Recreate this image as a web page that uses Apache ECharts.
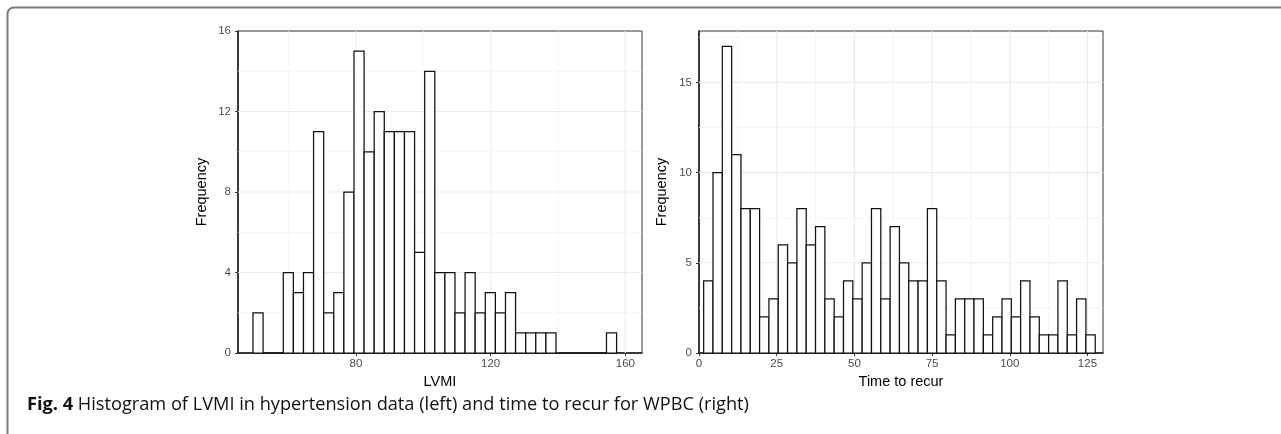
<!DOCTYPE html>
<html>
<head>
<meta charset="utf-8">
<script src="https://cdn.jsdelivr.net/npm/echarts@6/dist/echarts.min.js"></script>
<style>
  html, body { margin: 0; padding: 0; background: #fff; overflow: hidden; }
  #chart { width: 1281px; height: 434px; }
</style>
</head>
<body>
<div id="chart"></div>
<script>
// ---- Data ----
// Left: LVMI histogram (binwidth 3)
const lvmiBinStart = 49.4;
const lvmiBinWidth = 3;
const lvmiCounts = [2,0,0,4,3,4,11,2,3,8,15,10,12,11,11,11,5,14,4,4,2,4,2,3,2,3,1,1,1,1,0,0,0,0,0,1];
const lvmiXTicks = [80, 120, 160];
const lvmiYTicks = [0, 4, 8, 12, 16];
const lvmiXRange = [44.95, 164.95];
const lvmiYRange = [0, 16];

// Right: Time to recur histogram (binwidth 3)
const recurBinStart = 1.5;
const recurBinWidth = 3;
const recurCounts = [4,10,17,11,8,8,2,3,6,5,8,6,7,3,2,4,3,5,8,3,7,5,4,4,8,4,1,3,3,3,1,2,3,2,4,2,1,1,4,1,3,1];
const recurXTicks = [0, 25, 50, 75, 100, 125];
const recurYTicks = [0, 5, 10, 15];
const recurXRange = [0, 130];
const recurYRange = [0, 17.85];

const xTitleLeft = 'LVMI';
const xTitleRight = 'Time to recur';
const yTitle = 'Frequency';
const captionBold = 'Fig. 4';
const captionText = ' Histogram of LVMI in hypertension data (left) and time to recur for WPBC (right)';

// ---- Helpers ----
function bins(start, width, counts) {
  return counts.map((c, i) => [start + i * width, start + (i + 1) * width, c]);
}
function withMinor(ticks, lo, hi) {
  const step = ticks[1] - ticks[0];
  const out = [];
  ticks.forEach(t => out.push([t, 1]));
  for (let v = ticks[0] - step / 2; v <= hi; v += step) {
    if (v > lo && v < hi) out.push([v, 0]);
  }
  return out;
}
function gridData(xt, yt, xr, yr) {
  const d = [];
  withMinor(xt, xr[0], xr[1]).forEach(([v, m]) => { if (v > xr[0] && v < xr[1]) d.push([v, 0, m]); });
  withMinor(yt, yr[0], yr[1]).forEach(([v, m]) => { if (v > yr[0] && v < yr[1]) d.push([v, 1, m]); });
  return d;
}

const FONT = 'Liberation Sans';
const GRID_TOP = 31, GRID_H = 322, GRID_W = 404;

function histRender(params, api) {
  const p0 = api.coord([api.value(0), api.value(2)]);
  const p1 = api.coord([api.value(1), 0]);
  return {
    type: 'rect',
    shape: { x: p0[0], y: p0[1], width: p1[0] - p0[0], height: p1[1] - p0[1] },
    style: { fill: '#ffffff', stroke: '#111111', lineWidth: 1.25 }
  };
}
function makeGridRender(xr, yr) {
  return function (params, api) {
    const cs = params.coordSys;
    const v = api.value(0), orient = api.value(1), major = api.value(2);
    const stroke = major ? '#ebebeb' : '#f3f3f3';
    const lw = major ? 1.1 : 0.8;
    if (orient === 0) {
      const p = api.coord([v, yr[0]]);
      return { type: 'line', shape: { x1: p[0], y1: cs.y, x2: p[0], y2: cs.y + cs.height }, style: { stroke, lineWidth: lw } };
    } else {
      const p = api.coord([xr[0], v]);
      return { type: 'line', shape: { x1: cs.x, y1: p[1], x2: cs.x + cs.width, y2: p[1] }, style: { stroke, lineWidth: lw } };
    }
  };
}

function xAxis(gridIndex, range, ticks, name) {
  return {
    type: 'value', gridIndex, min: range[0], max: range[1],
    name, nameLocation: 'middle', nameGap: 19,
    nameTextStyle: { color: '#000', fontSize: 14.5, fontFamily: FONT },
    splitLine: { show: false },
    axisLine: { show: true, onZero: false, lineStyle: { color: '#1a1a1a', width: 1.5 } },
    axisTick: { show: true, customValues: ticks, length: 3, lineStyle: { color: '#333' } },
    axisLabel: { customValues: ticks, color: '#4d4d4d', fontSize: 11.5, fontFamily: FONT, margin: 5 }
  };
}
function yAxis(gridIndex, range, ticks, gap) {
  return {
    type: 'value', gridIndex, min: range[0], max: range[1],
    name: yTitle, nameLocation: 'middle', nameGap: gap,
    nameTextStyle: { color: '#000', fontSize: 14.5, fontFamily: FONT },
    splitLine: { show: false },
    axisLine: { show: true, onZero: false, lineStyle: { color: '#1a1a1a', width: 1.5 } },
    axisTick: { show: true, customValues: ticks, length: 3, lineStyle: { color: '#333' } },
    axisLabel: { customValues: ticks, color: '#4d4d4d', fontSize: 11.5, fontFamily: FONT, margin: 7 }
  };
}

const chart = echarts.init(document.getElementById('chart'), null, { renderer: 'canvas' });
chart.setOption({
  backgroundColor: '#ffffff',
  animation: false,
  textStyle: { fontFamily: FONT },
  title: {
    text: '{b|' + captionBold + '}{r|' + captionText + '}',
    left: 22, top: 391,
    textStyle: {
      rich: {
        b: { fontFamily: 'Open Sans', fontWeight: 'bold', fontSize: 18.2, color: '#111' },
        r: { fontFamily: 'Open Sans', fontWeight: 'normal', fontSize: 18.2, color: '#111' }
      }
    }
  },
  graphic: [{
    type: 'polyline', silent: true,
    shape: { points: [[7.5, 440], [7.5, 13.5], [8.3, 10.5], [10.5, 8.3], [13.5, 7.5], [1295, 7.5]] },
    style: { fill: null, stroke: '#7a7a7a', lineWidth: 2 }
  }],
  grid: [
    { left: 238, top: GRID_TOP, width: GRID_W, height: GRID_H, show: true, borderColor: '#333', borderWidth: 1, backgroundColor: 'transparent' },
    { left: 699, top: GRID_TOP, width: GRID_W, height: GRID_H, show: true, borderColor: '#333', borderWidth: 1, backgroundColor: 'transparent' }
  ],
  xAxis: [
    xAxis(0, lvmiXRange, lvmiXTicks, xTitleLeft),
    xAxis(1, recurXRange, recurXTicks, xTitleRight)
  ],
  yAxis: [
    yAxis(0, lvmiYRange, lvmiYTicks, 29),
    yAxis(1, recurYRange, recurYTicks, 30)
  ],
  series: [
    { type: 'custom', xAxisIndex: 0, yAxisIndex: 0, z: 1, silent: true, clip: true,
      renderItem: makeGridRender(lvmiXRange, lvmiYRange),
      data: gridData(lvmiXTicks, lvmiYTicks, lvmiXRange, lvmiYRange) },
    { type: 'custom', xAxisIndex: 1, yAxisIndex: 1, z: 1, silent: true, clip: true,
      renderItem: makeGridRender(recurXRange, recurYRange),
      data: gridData(recurXTicks, recurYTicks, recurXRange, recurYRange) },
    { type: 'custom', xAxisIndex: 0, yAxisIndex: 0, z: 5, renderItem: histRender,
      encode: { x: [0, 1], y: 2 },
      data: bins(lvmiBinStart, lvmiBinWidth, lvmiCounts) },
    { type: 'custom', xAxisIndex: 1, yAxisIndex: 1, z: 5, renderItem: histRender,
      encode: { x: [0, 1], y: 2 },
      data: bins(recurBinStart, recurBinWidth, recurCounts) }
  ]
});
</script>
</body>
</html>
